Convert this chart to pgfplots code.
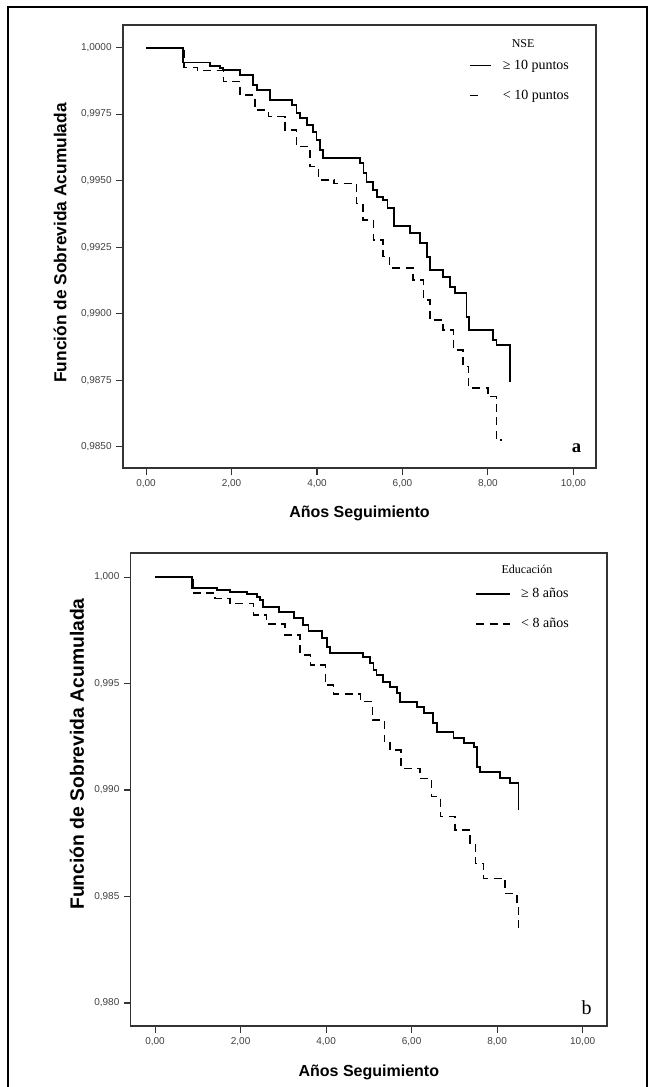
\documentclass[border=0pt]{standalone}
\usepackage{fontspec}
\setmainfont{Liberation Sans}
\newfontfamily\timesf{Liberation Serif}
\usepackage{pgfplots}
\pgfplotsset{compat=1.18}

% common look of both Kaplan-Meier panels
\pgfplotsset{
  km/.style={
    scale only axis,
    axis line style={black!80, line width=0.9pt},
    tick align=outside, xtick pos=bottom, ytick pos=left,
    major tick length=5pt,
    tick style={black!80, line width=0.8pt},
    ticklabel style={font=\fontsize{7.5}{9}\selectfont, text=black!75},
    /pgf/number format/assume math mode=true,
    /pgf/number format/use comma,
    /pgf/number format/fixed,
    /pgf/number format/fixed zerofill,
    scaled ticks=false,
    xtick={0,2,4,6,8,10},
    xticklabel style={/pgf/number format/precision=2},
    xlabel={Años Seguimiento},
    ylabel={Función de Sobrevida Acumulada},
    legend cell align=left,
    legend style={draw=none, fill=none, inner sep=0pt,
      font=\timesf\fontsize{10.5}{11}\selectfont,
      row sep=10pt, /tikz/every odd column/.append style={column sep=6pt}},
  },
  solidkm/.style={const plot, black, line width=1.4pt},
  dashkm/.style={const plot, black, line width=1.1pt, dash pattern=on 6pt off 4pt},
  legline/.style={legend image code/.code={\draw[##1] (0pt,0pt) -- (#1,0pt);}},
}

\begin{document}
\begin{tikzpicture}[x=0.75pt, y=0.75pt]
\path[use as bounding box] (0,0) rectangle (655,1087);
\draw[line width=1.5pt] (8,0) -- (8,1080) -- (647,1080) -- (647,0);

% ---------- panel a: NSE ----------
\begin{axis}[km,
  at={(92.25pt,464.25pt)}, anchor=south west,
  width=354.75pt, height=332.25pt,
  xmin=-0.54, xmax=10.53,
  ymin=0.98420, ymax=1.00085,
  ytick={0.985,0.9875,0.99,0.9925,0.995,0.9975,1},
  yticklabel style={/pgf/number format/precision=4},
  xlabel style={at={(rel axis cs:0.5,-0.102)}, anchor=center,
    font=\bfseries\fontsize{12}{14}\selectfont},
  ylabel style={at={(rel axis cs:-0.133,0.508)}, anchor=center,
    font=\bfseries\fontsize{13}{15}\selectfont},
  legend style={at={(rel axis cs:0.731,0.928)}, anchor=north west},
]
\addplot[solidkm, legline=16pt] coordinates {
  (0,1.0000) (0.87,0.99944) (1.50,0.99931) (1.73,0.99922) (1.81,0.99916)
  (2.20,0.99897) (2.51,0.99860) (2.59,0.99841) (2.90,0.99803) (3.41,0.99785)
  (3.52,0.99753) (3.60,0.99735) (3.76,0.99709) (3.91,0.99684) (3.99,0.99653)
  (4.07,0.99615) (4.15,0.99586) (5.01,0.99565) (5.09,0.99528) (5.16,0.99496)
  (5.32,0.99465) (5.40,0.99440) (5.55,0.99427) (5.65,0.99396) (5.80,0.99330)
  (6.18,0.99302) (6.41,0.99265) (6.57,0.99214) (6.64,0.99164) (6.95,0.99139)
  (7.11,0.99101) (7.23,0.99077) (7.50,0.98989) (7.55,0.98939) (8.12,0.98901)
  (8.20,0.98882) (8.51,0.98744)
};
\addlegendentry{≥ 10 puntos}
\addplot[dashkm, legline=8pt] coordinates {
  (0,1.0000) (0.89,0.99925) (1.20,0.99914) (1.81,0.99872) (2.20,0.99822)
  (2.55,0.99766) (2.86,0.99741) (3.25,0.99691) (3.52,0.99628) (3.84,0.99553)
  (4.03,0.99503) (4.40,0.99490) (4.93,0.99415) (5.08,0.99352) (5.32,0.99277)
  (5.55,0.99214) (5.70,0.99171) (6.25,0.99127) (6.49,0.99051) (6.64,0.98976)
  (6.95,0.98939) (7.19,0.98863) (7.42,0.98801) (7.55,0.98720) (8.00,0.98688)
  (8.20,0.98525) (8.32,0.98525)
};
\addlegendentry{< 10 puntos}
\node[font=\timesf\fontsize{9}{10}\selectfont] at (rel axis cs:0.846,0.959) {NSE};
\node[font=\timesf\bfseries\fontsize{14}{15}\selectfont] at (rel axis cs:0.959,0.045) {a};
\end{axis}

% ---------- panel b: Educacion ----------
\begin{axis}[km,
  at={(98.03pt,45.75pt)}, anchor=south west,
  width=357.2pt, height=354.75pt,
  xmin=-0.57, xmax=10.57,
  ymin=0.97892, ymax=1.00113,
  ytick={0.98,0.985,0.99,0.995,1},
  yticklabel style={/pgf/number format/precision=3},
  xlabel style={at={(rel axis cs:0.5,-0.099)}, anchor=center,
    font=\bfseries\fontsize{12}{14}\selectfont},
  ylabel style={at={(rel axis cs:-0.113,0.575)}, anchor=center,
    font=\bfseries\fontsize{14.5}{16}\selectfont},
  legend style={at={(rel axis cs:0.723,0.932)}, anchor=north west},
]
\addplot[solidkm, legline=25pt] coordinates {
  (0,1.0000) (0.86,0.99950) (1.44,0.99939) (1.75,0.99928) (2.14,0.99919)
  (2.38,0.99908) (2.46,0.99892) (2.53,0.99861) (2.89,0.99837) (3.24,0.99806)
  (3.47,0.99775) (3.59,0.99745) (3.90,0.99712) (4.02,0.99673) (4.09,0.99642)
  (4.87,0.99626) (5.03,0.99595) (5.11,0.99563) (5.18,0.99540) (5.34,0.99508)
  (5.50,0.99485) (5.65,0.99454) (5.73,0.99413) (6.12,0.99391) (6.28,0.99360)
  (6.51,0.99313) (6.59,0.99274) (6.98,0.99243) (7.22,0.99219) (7.45,0.99203)
  (7.53,0.99110) (7.60,0.99086) (8.07,0.99055) (8.30,0.99031) (8.50,0.98905)
};
\addlegendentry{≥ 8 años}
\addplot[dashkm, legline=25pt] coordinates {
  (0,1.0000) (0.90,0.99926) (1.40,0.99900) (1.75,0.99876) (2.30,0.99822)
  (2.61,0.99779) (3.04,0.99728) (3.39,0.99634) (3.63,0.99587) (3.98,0.99493)
  (4.17,0.99451) (4.80,0.99415) (5.08,0.99329) (5.36,0.99227) (5.50,0.99188)
  (5.75,0.99102) (6.20,0.99055) (6.47,0.98969) (6.67,0.98875) (7.02,0.98812)
  (7.37,0.98750) (7.49,0.98656) (7.68,0.98585) (8.19,0.98515) (8.46,0.98452)
  (8.50,0.98343)
};
\addlegendentry{< 8 años}
\node[font=\timesf\fontsize{9}{10}\selectfont] at (rel axis cs:0.832,0.966) {Educación};
\node[font=\timesf\fontsize{15}{16}\selectfont] at (rel axis cs:0.957,0.038) {b};
\end{axis}
\end{tikzpicture}
\end{document}
